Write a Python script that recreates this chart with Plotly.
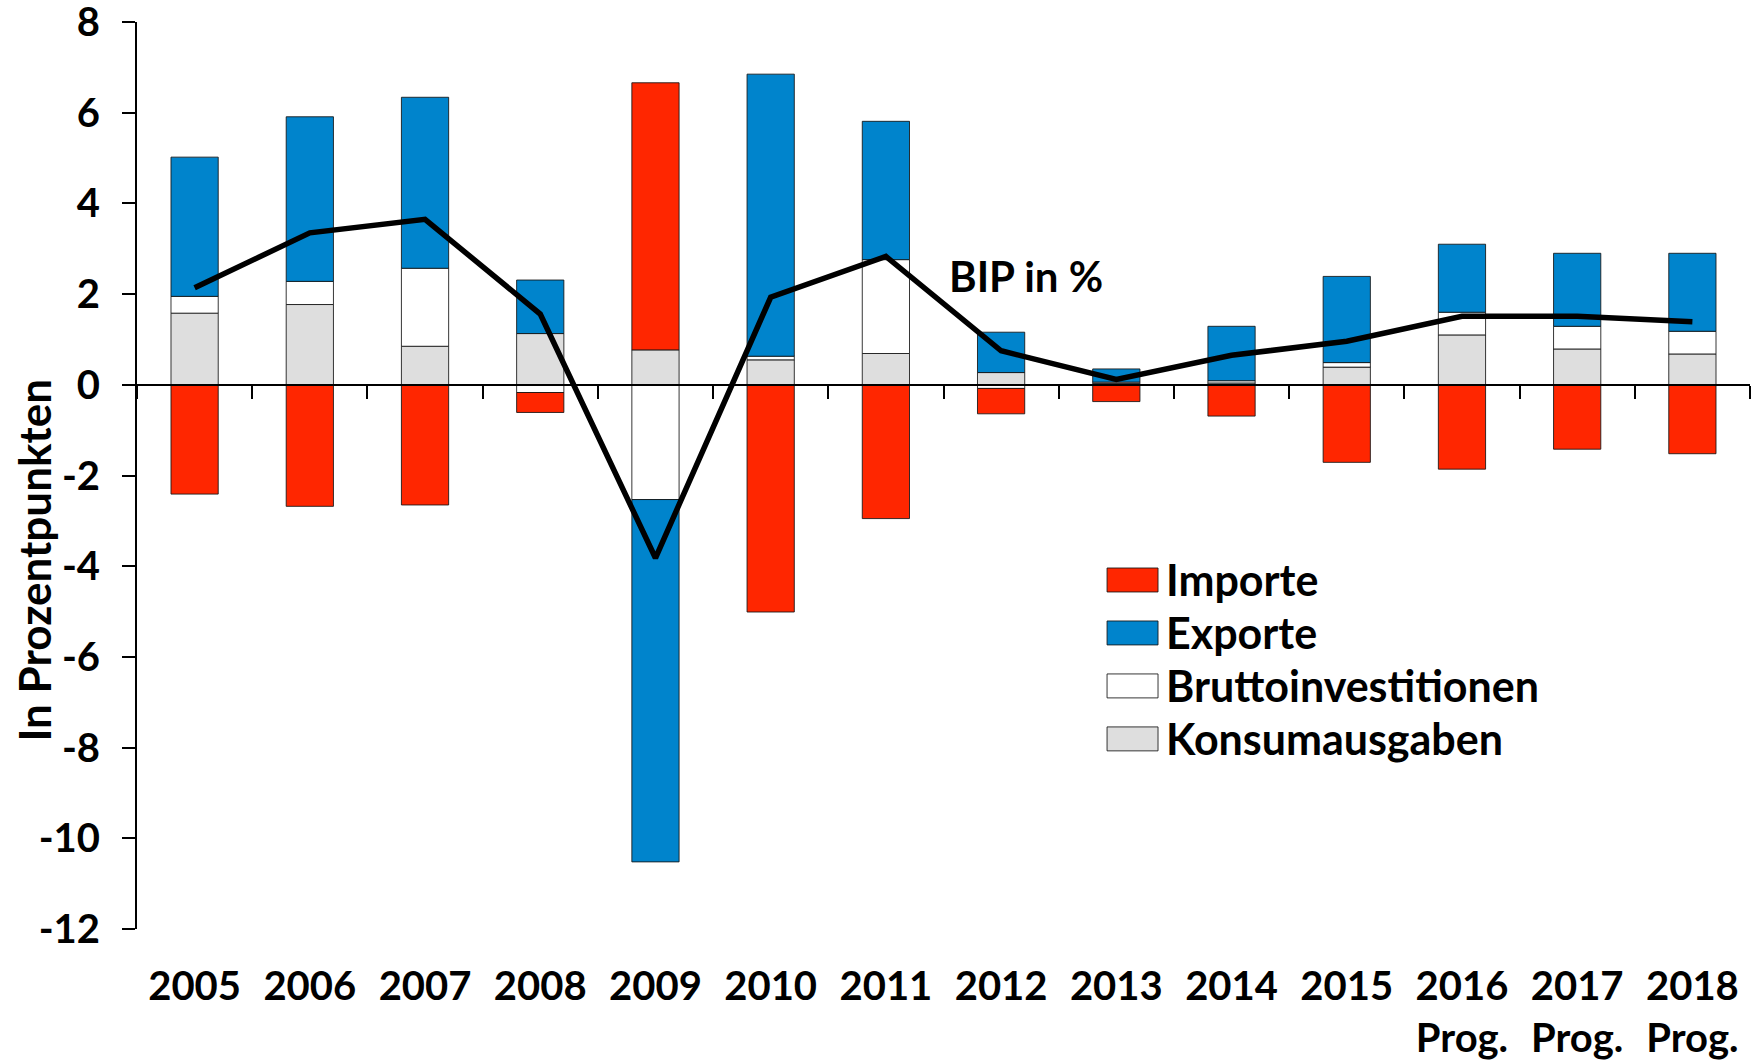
import plotly.graph_objects as go

# ---------------- data ----------------
years = ["2005", "2006", "2007", "2008", "2009", "2010", "2011",
         "2012", "2013", "2014", "2015", "2016", "2017", "2018"]
tick_labels = ["2005", "2006", "2007", "2008", "2009", "2010", "2011",
               "2012", "2013", "2014", "2015", "2016<br>Prog.", "2017<br>Prog.", "2018<br>Prog."]

konsum = [1.58, 1.77, 0.85, 1.13, 0.77, 0.55, 0.69, 0.27, 0.03, 0.04, 0.39, 1.10, 0.79, 0.68]
brutto = [0.37, 0.51, 1.72, -0.17, -2.53, 0.08, 2.07, -0.08, 0.03, 0.05, 0.10, 0.50, 0.50, 0.50]
exporte = [3.07, 3.63, 3.77, 1.18, -7.99, 6.22, 3.05, 0.89, 0.29, 1.20, 1.90, 1.50, 1.61, 1.72]
importe = [-2.41, -2.68, -2.65, -0.44, 5.89, -5.01, -2.95, -0.56, -0.37, -0.69, -1.71, -1.86, -1.42, -1.52]
bip = [2.14, 3.35, 3.65, 1.56, -3.82, 1.93, 2.83, 0.75, 0.12, 0.65, 0.96, 1.51, 1.51, 1.39]

y_ticks = [-12, -10, -8, -6, -4, -2, 0, 2, 4, 6, 8]
y_ticktext = ["-12", "-10", "-8", "-6", "-4", "-2", "0", "2", "4", "6", "8"]

series_names = ["Konsumausgaben", "Bruttoinvestitionen", "Exporte", "Importe"]
series_vals = [konsum, brutto, exporte, importe]
series_colors = ["#DEDEDE", "#FFFFFF", "#0084CC", "#FF2600"]
legend_order = ["Importe", "Exporte", "Bruttoinvestitionen", "Konsumausgaben"]

FONT = "Lato"
Y_MIN, Y_MAX = -12, 8

fig = go.Figure()
for name, vals, col in zip(series_names, series_vals, series_colors):
    fig.add_trace(go.Bar(
        x=years, y=vals, name=name, width=0.41,
        marker=dict(color=col, line=dict(color="rgba(20,20,20,0.85)", width=1)),
        showlegend=False,
    ))

fig.add_trace(go.Scatter(
    x=years, y=bip, mode="lines", name="BIP in %",
    line=dict(color="black", width=5.5), showlegend=False,
))

# dummy trace to host the zero-line axis
n = len(years)
boundaries = [i - 0.5 for i in range(n + 1)]
fig.add_trace(go.Scatter(x=[boundaries[0]], y=[None], xaxis="x2", mode="lines",
                         showlegend=False, hoverinfo="skip"))

zero_pos = (0 - Y_MIN) / (Y_MAX - Y_MIN)

fig.update_layout(
    width=1757, height=1061,
    margin=dict(l=137, r=7, t=22, b=132, autoexpand=False),
    paper_bgcolor="white", plot_bgcolor="white",
    barmode="relative",
    font=dict(family=FONT, color="black", size=34, weight="bold"),
    xaxis=dict(
        type="category", range=[-0.5, n - 0.5],
        tickvals=years, ticktext=tick_labels,
        showline=False, ticks="", showgrid=False, zeroline=False,
        tickfont=dict(size=40, family=FONT, weight="bold"),
        ticklabelstandoff=30, automargin=False,
    ),
    xaxis2=dict(
        overlaying="x", anchor="free", position=zero_pos,
        range=[-0.5, n - 0.5], tickvals=boundaries,
        showticklabels=False, showline=True, linecolor="black", linewidth=2,
        ticks="outside", ticklen=13, tickwidth=2, tickcolor="black",
        showgrid=False, zeroline=False, automargin=False,
    ),
    yaxis=dict(
        range=[Y_MIN, Y_MAX], tickvals=y_ticks, ticktext=y_ticktext,
        showline=True, linecolor="black", linewidth=2,
        ticks="outside", ticklen=13, tickwidth=2, tickcolor="black",
        showgrid=False, zeroline=False,
        tickfont=dict(size=40, family=FONT, weight="bold"),
        ticklabelstandoff=14, automargin=False, ticklabeloverflow="allow",
    ),
)

# y-axis title
fig.add_annotation(
    text="In Prozentpunkten", textangle=-90, xref="paper", yref="paper",
    x=-0.064, y=0.407, xanchor="center", yanchor="middle", showarrow=False,
    font=dict(size=44, family=FONT, weight="bold"),
)

# BIP label
fig.add_annotation(
    text="BIP in %", xref="x", yref="y", x=7.22, y=2.39, showarrow=False,
    xanchor="center", yanchor="middle",
    font=dict(size=42, family=FONT, weight="bold"),
)

# custom legend
leg_x0, leg_x1, leg_text_x = 0.6014, 0.633, 0.637
leg_y_top, leg_step, leg_half_h = 0.3848, 0.0584, 0.0132
for i, name in enumerate(legend_order):
    col = series_colors[series_names.index(name)]
    yc = leg_y_top - i * leg_step
    fig.add_shape(type="rect", xref="paper", yref="paper",
                  x0=leg_x0, x1=leg_x1, y0=yc - leg_half_h, y1=yc + leg_half_h,
                  fillcolor=col, line=dict(color="rgba(20,20,20,0.85)", width=1))
    fig.add_annotation(text=name, xref="paper", yref="paper", x=leg_text_x, y=yc,
                       xanchor="left", yanchor="middle", showarrow=False,
                       font=dict(size=43, family=FONT, weight="bold"))

fig.write_html("out.html",
               config={"displayModeBar": False},
               post_script="document.body.style.margin='0px';document.body.style.overflow='hidden';")
